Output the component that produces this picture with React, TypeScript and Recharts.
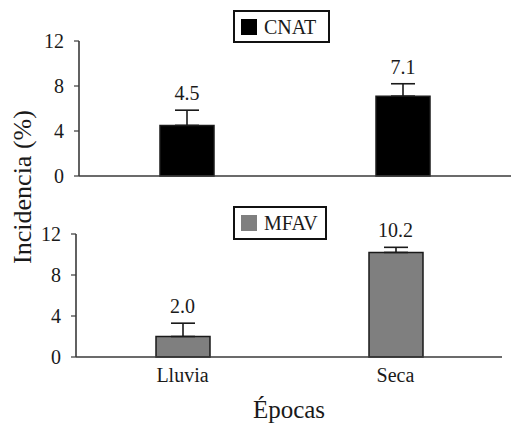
import React from 'react';
import { ComposedChart, Bar, Line, XAxis, YAxis, ErrorBar, LabelList } from 'recharts';

const categories = ['Lluvia', 'Seca'];
const cnatValues = [4.5, 7.1];
const cnatErrors = [1.35, 1.1];
const mfavValues = [2.0, 10.2];
const mfavErrors = [1.3, 0.5];
const yTicks = [0, 4, 8, 12];
const boundaryTicks = [0, 1, 2];

const FONT = "'Liberation Serif', 'DejaVu Serif', Times, serif";
const AXIS = '#3a3a3a';
const TEXT = '#1a1a1a';

type PanelProps = {
  name: string;
  values: number[];
  errors: number[];
  fill: string;
  top: number;
  height: number;
  marginTop: number;
  marginBottom: number;
  marginRight: number;
  yAxisWidth: number;
  showCategories: boolean;
  catHeight: number;
};

function Panel(p: PanelProps) {
  const data = categories.map((c, i) => ({
    category: c,
    value: p.values[i],
    err: [0, p.errors[i]],
    top: p.values[i] + p.errors[i],
  }));
  return (
    <div style={{ position: 'absolute', left: 0, top: p.top }}>
      <ComposedChart
        width={512}
        height={p.height}
        data={data}
        margin={{ top: p.marginTop, right: p.marginRight, bottom: p.marginBottom, left: 0 }}
        style={{ fontFamily: FONT }}
      >
        <XAxis
          xAxisId="a_edges"
          type="number"
          domain={[0, 2]}
          ticks={boundaryTicks}
          allowDataOverflow
          tick={false}
          height={1}
          tickSize={6}
          axisLine={{ stroke: AXIS, strokeWidth: 1.6 }}
          tickLine={{ stroke: AXIS, strokeWidth: 1.6 }}
        />
        <XAxis
          xAxisId="b_cat"
          type="category"
          dataKey="category"
          hide={!p.showCategories}
          axisLine={false}
          tickLine={false}
          tickSize={0}
          tickMargin={10}
          height={p.catHeight}
          tick={{ fontSize: 20, fill: TEXT, fontFamily: FONT }}
          label={
            p.showCategories
              ? { value: 'Épocas', position: 'insideBottom', offset: 7, fontSize: 25, fill: TEXT, fontFamily: FONT }
              : undefined
          }
        />
        <YAxis
          type="number"
          domain={[0, 12]}
          ticks={yTicks}
          width={p.yAxisWidth}
          tickSize={5}
          tickMargin={10}
          axisLine={{ stroke: AXIS, strokeWidth: 1.6 }}
          tickLine={{ stroke: AXIS, strokeWidth: 1.2 }}
          tick={{ fontSize: 20, fill: TEXT, fontFamily: FONT }}
        />
        <Bar
          xAxisId="b_cat"
          dataKey="value"
          name={p.name}
          fill={p.fill}
          stroke="#1a1a1a"
          strokeWidth={1.5}
          barSize={54}
          isAnimationActive={false}
        >
          <ErrorBar dataKey="err" direction="y" width={12} stroke="#1a1a1a" strokeWidth={1.6} isAnimationActive={false} />
        </Bar>
        <Line
          xAxisId="b_cat"
          dataKey="top"
          stroke="none"
          dot={false}
          activeDot={false}
          legendType="none"
          isAnimationActive={false}
        >
          <LabelList
            dataKey="value"
            position="top"
            offset={10}
            formatter={(v: any) => Number(v).toFixed(1)}
            style={{ fontSize: 20, fill: TEXT, fontFamily: FONT }}
          />
        </Line>
      </ComposedChart>
    </div>
  );
}

function LegendBox({ left, top, width, height, color, label }: { left: number; top: number; width: number; height: number; color: string; label: string }) {
  return (
    <div
      style={{
        position: 'absolute',
        left,
        top,
        width,
        height,
        boxSizing: 'border-box',
        border: '2px solid #111',
        background: '#fff',
        display: 'flex',
        alignItems: 'center',
        paddingLeft: 6,
        fontFamily: FONT,
        fontSize: 20,
        color: TEXT,
      }}
    >
      <span style={{ display: 'inline-block', width: 16, height: 16, background: color, marginRight: 7 }} />
      <span style={{ lineHeight: '20px' }}>{label}</span>
    </div>
  );
}

export default function App() {
  return (
    <div style={{ position: 'absolute', left: 0, top: 0, width: 512, height: 425, background: '#fff', overflow: 'hidden', fontFamily: FONT }}>
      <Panel
        name="CNAT"
        values={cnatValues}
        errors={cnatErrors}
        fill="#000000"
        top={0}
        height={200}
        marginTop={41}
        marginBottom={23}
        marginRight={1}
        yAxisWidth={79}
        showCategories={false}
        catHeight={1}
      />
      <Panel
        name="MFAV"
        values={mfavValues}
        errors={mfavErrors}
        fill="#7f7f7f"
        top={200}
        height={225}
        marginTop={34}
        marginBottom={0}
        marginRight={10}
        yAxisWidth={76}
        showCategories={true}
        catHeight={67}
      />
      <LegendBox left={233} top={10} width={97} height={33} color="#000" label="CNAT" />
      <LegendBox left={233} top={206} width={94} height={34} color="#7f7f7f" label="MFAV" />
      <div
        style={{
          position: 'absolute',
          left: 23,
          top: 187,
          transform: 'translate(-50%, -50%) rotate(-90deg)',
          whiteSpace: 'nowrap',
          fontFamily: FONT,
          fontSize: 26,
          color: TEXT,
        }}
      >
        Incidencia (%)
      </div>
    </div>
  );
}
